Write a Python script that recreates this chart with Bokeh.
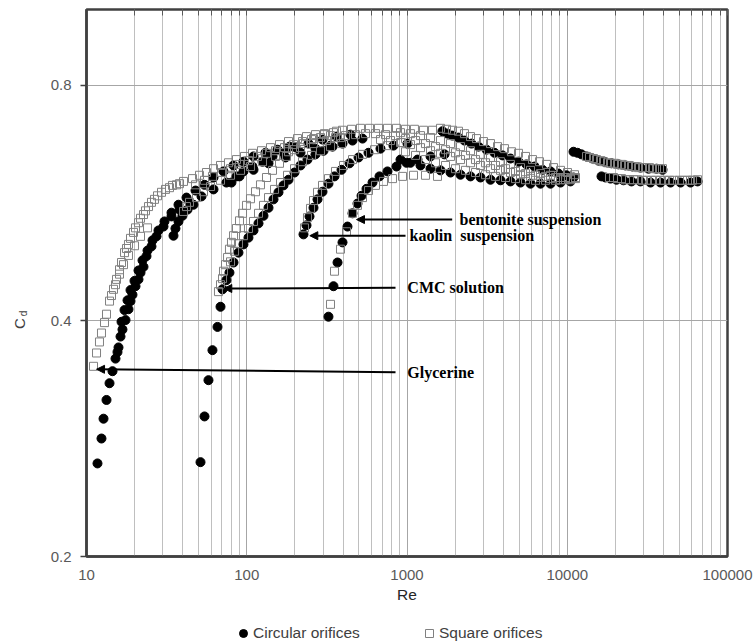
from bokeh.plotting import figure
from bokeh.layouts import row, column
from bokeh.models import (FixedTicker, PrintfTickFormatter, Arrow, NormalHead,
                          Label, Legend, LegendItem, Range1d, LogAxis)
from bokeh.embed import file_html
from bokeh.resources import INLINE

# ---------------- data (Re, Cd) ----------------
# Glycerine, circular orifices
glyc_c1_re = [11.71, 12.40, 12.77, 13.33, 13.92, 14.53, 15.17, 15.61, 15.84, 16.30, 16.77, 17.52,
              18.28, 18.82, 19.36, 20.22, 21.11, 21.73, 22.68, 23.68, 25.44, 27.34, 30.23, 33.91,
              38.05, 43.92, 52.19, 62.02, 74.7, 90.1, 110.2, 136.7, 174.5, 216.5, 268.5, 333.1]
glyc_c1_cd = [0.263, 0.283, 0.300, 0.317, 0.333, 0.345, 0.358, 0.365, 0.370, 0.382, 0.390, 0.401,
              0.414, 0.424, 0.432, 0.443, 0.452, 0.461, 0.469, 0.484, 0.498, 0.513, 0.528, 0.544,
              0.555, 0.567, 0.577, 0.589, 0.601, 0.612, 0.624, 0.636, 0.647, 0.656, 0.664, 0.670]
glyc_c2_re = [16.54, 17.27, 18.03, 18.82, 19.93, 21.11, 22.36, 24.03, 25.82, 28.13, 30.67, 33.91,
              37.5, 42.07, 47.89, 54.5, 62.02, 71.6, 82.7, 95.4, 110.2, 130.9, 155.6, 184.9]
glyc_c2_cd = [0.399, 0.413, 0.425, 0.438, 0.450, 0.464, 0.478, 0.492, 0.507, 0.522, 0.536, 0.550,
              0.563, 0.575, 0.587, 0.597, 0.610, 0.621, 0.632, 0.639, 0.649, 0.656, 0.662, 0.668]
glyc_c3_re = [34.9, 35.9, 37.5, 39.7, 42.7, 46.5]
glyc_c3_cd = [0.514, 0.525, 0.536, 0.545, 0.555, 0.563]
glyc_c4_re = [80.3, 86.3, 95.4, 108.6, 125.4, 144.8, 169.6, 201.5, 242.8, 297.0, 363.1, 444.0]
glyc_c4_cd = [0.601, 0.612, 0.621, 0.630, 0.639, 0.649, 0.656, 0.667, 0.674, 0.682, 0.688, 0.692]

# Glycerine, square orifices
glyc_s1_re = [11.06, 11.55, 12.05, 12.40, 12.95, 13.33, 13.92, 14.74, 15.39, 16.07, 16.54, 17.27,
              18.28, 19.65, 21.11, 22.68, 24.38, 26.57, 29.38, 32.96, 36.44, 40.30, 45.86, 50.71,
              56.08, 62.02, 68.59, 76.9, 86.3, 96.8, 108.6, 123.6, 140.7, 160.1, 182.2, 207.4,
              236.0, 268.5, 305.6, 347.8, 395.9, 450.5, 512.6, 583.4, 663.9, 755.4, 860.0, 978.6,
              1113, 1268, 1443]
glyc_s1_cd = [0.350, 0.364, 0.376, 0.386, 0.398, 0.408, 0.424, 0.439, 0.452, 0.465, 0.475, 0.489,
              0.501, 0.519, 0.534, 0.547, 0.560, 0.572, 0.584, 0.592, 0.597, 0.603, 0.608, 0.614,
              0.619, 0.626, 0.632, 0.637, 0.643, 0.649, 0.655, 0.660, 0.666, 0.672, 0.678, 0.684,
              0.688, 0.692, 0.694, 0.696, 0.701, 0.703, 0.705, 0.705, 0.705, 0.705, 0.705, 0.703,
              0.703, 0.701, 0.701]
glyc_s2_re = [40.30, 42.07, 43.92, 48.58, 53.73, 59.41, 68.59, 79.18, 91.42, 105.5, 125.4, 151.2,
              182.2, 216.5, 260.9, 314.6, 384.6]
glyc_s2_cd = [0.552, 0.560, 0.567, 0.575, 0.585, 0.594, 0.605, 0.614, 0.623, 0.630, 0.639, 0.649,
              0.658, 0.666, 0.674, 0.680, 0.686]
glyc_s3_re = [14.32, 15.17, 16.07, 17.02, 18.28, 19.93, 21.73, 24.03]
glyc_s3_cd = [0.431, 0.445, 0.459, 0.472, 0.485, 0.499, 0.513, 0.526]
glyc_s4_re = [17.77, 18.82, 20.22, 21.73, 23.34, 25.44, 27.74, 31.12, 34.40, 38.05]
glyc_s4_cd = [0.495, 0.510, 0.526, 0.541, 0.553, 0.567, 0.578, 0.589, 0.596, 0.599]
glyc_s5_re = [47.89, 54.5, 61.1, 69.6, 79.18, 90.1, 102.5, 116.7, 132.8, 151.2, 172.0, 195.7,
              222.8, 253.6, 288.5, 333.1]
glyc_s5_cd = [0.597, 0.605, 0.612, 0.619, 0.626, 0.634, 0.641, 0.649, 0.655, 0.660, 0.666, 0.672,
              0.678, 0.682, 0.686, 0.690]

# CMC solution
cmc_c_re = [51.46, 54.5, 57.7, 61.1, 65.7, 68.59, 70.6, 74.7, 78.0, 82.7, 88.8, 95.4, 102.5, 110.2,
            118.4, 127.2, 136.7, 146.9, 157.8, 169.6, 182.2, 198.6, 216.5, 239.3, 268.5, 301.3,
            342.9, 395.9, 457.0, 527.7]
cmc_c_cd = [0.264, 0.302, 0.336, 0.367, 0.393, 0.417, 0.439, 0.451, 0.461, 0.475, 0.489, 0.501,
            0.511, 0.522, 0.533, 0.545, 0.558, 0.572, 0.584, 0.596, 0.606, 0.619, 0.632, 0.643,
            0.653, 0.660, 0.668, 0.674, 0.680, 0.684]
cmc_s1_re = [66.6, 68.59, 70.6, 71.6, 73.69, 75.9, 78.0, 80.3, 82.7, 86.3, 90.1, 94.1, 99.6, 105.5,
             113.4, 121.8, 132.8, 144.8, 160.1, 177.0, 198.6, 226.0, 260.9, 305.6, 363.1]
cmc_s1_cd = [0.436, 0.445, 0.453, 0.463, 0.472, 0.482, 0.494, 0.504, 0.514, 0.525, 0.537, 0.549,
             0.562, 0.573, 0.585, 0.597, 0.610, 0.623, 0.636, 0.649, 0.662, 0.674, 0.684, 0.692,
             0.699]
cmc_s2_re = [79.18, 83.9, 88.8, 95.4, 102.5, 110.2, 118.4, 127.2, 136.7, 149.0, 162.4, 179.6,
             198.6, 222.8, 253.6, 288.5, 333.1, 390.3]
cmc_s2_cd = [0.476, 0.491, 0.502, 0.514, 0.525, 0.536, 0.549, 0.562, 0.575, 0.589, 0.601, 0.614,
             0.626, 0.639, 0.651, 0.660, 0.668, 0.674]

# Kaolin suspension
kaol_c_re = [226.0, 236.0, 246.4, 260.9, 276.4, 297.0, 323.6, 352.8, 390.3, 437.8, 498.3, 575.1,
             683.3, 823.4, 1007]
kaol_c_cd = [0.516, 0.530, 0.544, 0.558, 0.572, 0.585, 0.599, 0.612, 0.624, 0.636, 0.647, 0.656,
             0.664, 0.670, 0.674]
kaol_s_re = [229.3, 239.3, 250.0, 260.9, 276.4, 297.0, 323.6, 357.9, 401.6, 457.0, 527.7, 627.0,
             755.4, 924.1]
kaol_s_cd = [0.526, 0.542, 0.557, 0.570, 0.584, 0.596, 0.608, 0.621, 0.632, 0.643, 0.653, 0.662,
             0.670, 0.676]

# Bentonite suspension
bent_c_re = [323.6, 347.8, 368.5, 395.9, 425.3, 457.0, 491.1, 520.2, 558.9, 609.2, 673.5, 755.4,
             860.0, 993.0, 1163, 1402, 1714]
bent_c_cd = [0.405, 0.443, 0.475, 0.504, 0.528, 0.549, 0.565, 0.578, 0.590, 0.601, 0.612, 0.621,
             0.630, 0.637, 0.643, 0.649, 0.653]
bent_s_re = [333.1, 352.8, 384.6, 419.3, 457.0, 491.1, 527.7, 575.1, 635.9, 713.4, 811.7, 937.4,
             1098, 1304, 1550]
bent_s_cd = [0.420, 0.463, 0.494, 0.520, 0.549, 0.562, 0.575, 0.587, 0.596, 0.603, 0.608, 0.612,
             0.614, 0.614, 0.612]

# Peak region and descending branches (Re 300 - 11000)
apex_s_re = [357.9, 413.2, 477.1, 550.8, 635.9, 734.1, 847.7]
apex_s_cd = [0.686, 0.690, 0.692, 0.694, 0.694, 0.692, 0.690]
desc1_c_re = [1665, 1789, 1922, 2096, 2284, 2526, 2794, 3135, 3516, 3944, 4424, 4962, 5568, 6246,
              7006, 7861, 8818, 9892, 10940]
desc1_c_cd = [0.699, 0.694, 0.690, 0.686, 0.680, 0.674, 0.668, 0.662, 0.656, 0.651, 0.645, 0.639,
              0.634, 0.630, 0.624, 0.621, 0.617, 0.614, 0.610]
desc1_s_re = [1618, 1764, 1922, 2096, 2284, 2490, 2715, 3002, 3319, 3670, 4058, 4488, 4962, 5489,
              6069, 6710, 7420, 8207, 9077, 10037, 11098]
desc1_s_cd = [0.705, 0.703, 0.701, 0.699, 0.694, 0.688, 0.684, 0.678, 0.674, 0.668, 0.664, 0.658,
              0.655, 0.649, 0.643, 0.639, 0.634, 0.628, 0.623, 0.619, 0.615]
desc2_re = [683.3, 788.9, 910.9, 1051, 1214, 1402, 1618, 1868, 2157, 2490, 2875, 3319, 3832, 4424,
            5108, 5898, 6809, 7861, 9077, 10476]
desc2_cd = [0.682, 0.680, 0.676, 0.672, 0.666, 0.660, 0.655, 0.649, 0.643, 0.637, 0.632, 0.626,
            0.623, 0.619, 0.615, 0.612, 0.610, 0.608, 0.606, 0.606]
desc3_re = [910.9, 1051, 1214, 1402, 1618, 1868, 2157, 2490, 2875, 3319, 3832, 4424, 5108, 5898,
            6809, 7861, 9077, 10476]
desc3_cd = [0.643, 0.637, 0.632, 0.626, 0.623, 0.619, 0.615, 0.612, 0.610, 0.606, 0.605, 0.603,
            0.601, 0.599, 0.599, 0.599, 0.601, 0.603]
desc4_re = [910.9, 1051, 1214, 1402, 1618, 1868, 2157, 2490, 2875, 3319, 3832, 4424, 5108, 5898,
            6809, 7861, 9077, 10476]
desc4_cd = [0.696, 0.694, 0.690, 0.686, 0.680, 0.674, 0.668, 0.660, 0.653, 0.647, 0.639, 0.634,
            0.628, 0.623, 0.617, 0.614, 0.610, 0.608]
desc5_re = [978.6, 1130, 1304, 1506, 1739, 2007, 2317, 2676, 3090, 3566, 4118, 4754, 5489, 6337,
            7316, 8447, 9750, 11260]
desc5_cd = [0.684, 0.680, 0.674, 0.668, 0.662, 0.656, 0.651, 0.643, 0.637, 0.632, 0.626, 0.621,
            0.617, 0.614, 0.612, 0.610, 0.610, 0.610]
desc6_re = [978.6, 1130, 1304, 1506, 1739, 2007, 2317, 2676, 3090, 3566, 4118, 4754, 5489, 6337,
            7316, 8447, 9750, 11260]
desc6_cd = [0.658, 0.651, 0.643, 0.637, 0.632, 0.626, 0.623, 0.619, 0.615, 0.612, 0.610, 0.608,
            0.606, 0.605, 0.605, 0.605, 0.606, 0.608]

# High-Re branches
wat1_c_re = [10940, 11585, 12270, 13190, 14375, 15668, 17078, 18885, 20879, 23099, 25537, 28640,
             32137, 36057, 39300]
wat1_c_cd = [0.658, 0.656, 0.653, 0.649, 0.645, 0.641, 0.639, 0.636, 0.634, 0.632, 0.630, 0.628,
             0.626, 0.626, 0.624]
wat1_s_re = [13190, 13765, 14582, 15222, 16120, 16836, 17832, 18619, 19711, 20590, 21800, 22770,
             24105, 25170, 26670, 27830, 29480, 30790, 32600, 34040, 36057, 37640, 39300]
wat1_s_cd = [0.649, 0.647, 0.645, 0.643, 0.641, 0.639, 0.637, 0.636, 0.636, 0.634, 0.634, 0.632,
             0.632, 0.630, 0.630, 0.628, 0.628, 0.628, 0.628, 0.626, 0.626, 0.626, 0.626]
wat2_c_re = [16360, 17328, 18619, 20290, 22440, 25170, 28640, 33080, 38190, 44100, 50930, 58780,
             65010]
wat2_c_cd = [0.612, 0.610, 0.608, 0.606, 0.605, 0.603, 0.603, 0.601, 0.601, 0.601, 0.601, 0.601,
             0.603]
wat2_s_re = [18350, 19430, 20590, 21800, 23099, 24460, 25910, 27440, 29480, 31230, 33550, 35540,
             38190, 40440, 43450, 46030, 50170, 52390, 56290, 58780, 60470, 65010]
wat2_s_cd = [0.610, 0.610, 0.608, 0.608, 0.606, 0.606, 0.606, 0.606, 0.605, 0.605, 0.605, 0.605,
             0.605, 0.605, 0.605, 0.605, 0.605, 0.605, 0.605, 0.605, 0.605, 0.606]

# Annotations
ann_text = ["bentonite suspension", "kaolin\u00a0 suspension", "CMC solution", "Glycerine"]
ann_text_re = [2126, 1037, 1005, 1005]
ann_text_cd = [0.539, 0.514, 0.441, 0.344]
arr_start_re = [1914, 979, 848, 848]
arr_start_cd = [0.539, 0.514, 0.441, 0.344]
arr_end_re = [484, 247.5, 71.9, 11.55]
arr_end_cd = [0.539, 0.514, 0.440, 0.347]

x_major = [10, 100, 1000, 10000, 100000]
y_major = [0.2, 0.4, 0.8]
legend_labels = ["Circular orifices", "Square orifices"]

# ---------------- assemble ----------------
circ_sets = [(glyc_c1_re, glyc_c1_cd), (glyc_c2_re, glyc_c2_cd), (glyc_c3_re, glyc_c3_cd),
             (glyc_c4_re, glyc_c4_cd), (cmc_c_re, cmc_c_cd), (kaol_c_re, kaol_c_cd),
             (bent_c_re, bent_c_cd), (desc1_c_re, desc1_c_cd), (desc3_re, desc3_cd),
             (wat1_c_re, wat1_c_cd), (wat2_c_re, wat2_c_cd)]
sq_sets = [(glyc_s1_re, glyc_s1_cd), (glyc_s2_re, glyc_s2_cd), (glyc_s3_re, glyc_s3_cd),
           (glyc_s4_re, glyc_s4_cd), (glyc_s5_re, glyc_s5_cd),
           (cmc_s1_re, cmc_s1_cd), (cmc_s2_re, cmc_s2_cd), (kaol_s_re, kaol_s_cd),
           (bent_s_re, bent_s_cd), (apex_s_re, apex_s_cd), (desc1_s_re, desc1_s_cd),
           (desc2_re, desc2_cd), (desc4_re, desc4_cd), (desc5_re, desc5_cd), (desc6_re, desc6_cd),
           (wat1_s_re, wat1_s_cd), (wat2_s_re, wat2_s_cd)]

circ_re, circ_cd, sq_re, sq_cd = [], [], [], []
for a, b in circ_sets:
    circ_re += a
    circ_cd += b
for a, b in sq_sets:
    sq_re += a
    sq_cd += b

CIRC = dict(marker="circle", size=9, fill_color="black", line_color="black")
SQ = dict(marker="square", size=8, fill_color=None, line_color="#808080", line_width=1)

LEFT_W = 30   # narrow strip holding the y-axis title
LEG_H = 30    # strip holding the legend
MAIN_H = 644 - LEG_H

p = figure(width=756 - LEFT_W, height=MAIN_H, x_axis_type="log", y_axis_type="log",
           x_range=Range1d(10, 100000), y_range=Range1d(0.2, 1.0),
           output_backend="svg", toolbar_location=None,
           min_border_left=86 - LEFT_W, min_border_right=29, min_border_top=9,
           min_border_bottom=MAIN_H - 556)

p.background_fill_color = "white"
p.border_fill_color = "white"
p.outline_line_color = "#404040"
p.outline_line_width = 2.5

p.scatter(circ_re, circ_cd, **CIRC)
p.scatter(sq_re, sq_cd, **SQ)

x_minor = [m * 10 ** k for k in range(1, 5) for m in range(2, 10)]
xt = FixedTicker(ticks=x_major, minor_ticks=x_minor)
yt = FixedTicker(ticks=y_major, minor_ticks=[])
p.xaxis.ticker = xt
p.xgrid.ticker = xt
p.yaxis.ticker = yt
p.ygrid.ticker = yt
p.xaxis.formatter = PrintfTickFormatter(format="%d")
p.yaxis.formatter = PrintfTickFormatter(format="%.1f")

p.xgrid.grid_line_color = "#a6a6a6"
p.xgrid.minor_grid_line_color = "#bfbfbf"
p.ygrid.grid_line_color = "#a6a6a6"

for ax in (p.xaxis, p.yaxis):
    ax.axis_line_color = "#404040"
    ax.axis_line_width = 2.5
    ax.major_tick_line_color = "#404040"
    ax.major_tick_line_width = 1.5
    ax.minor_tick_in = 0
    ax.minor_tick_out = 0
    ax.major_tick_in = 0
    ax.major_label_text_font = "Liberation Sans"
    ax.major_label_text_font_size = "15px"
    ax.major_label_text_color = "#595959"

p.xaxis.major_tick_out = 0
p.xaxis.major_label_standoff = 13
p.yaxis.major_tick_out = 6
p.yaxis.major_label_standoff = 9

p.xaxis.axis_label = "Re"
p.xaxis.axis_label_text_font = "Liberation Sans"
p.xaxis.axis_label_text_font_size = "15.5px"
p.xaxis.axis_label_text_font_style = "normal"
p.xaxis.axis_label_text_color = "#262626"
p.xaxis.axis_label_standoff = 3

# short inward ticks along the top border
top_ax = LogAxis(ticker=xt, axis_line_color=None, major_tick_in=6, major_tick_out=0,
                 minor_tick_in=6, minor_tick_out=0, major_tick_line_color="#595959",
                 minor_tick_line_color="#595959", major_label_standoff=0,
                 major_label_overrides={t: "" for t in x_major})
p.add_layout(top_ax, "above")

# arrows and notes
for i in range(len(ann_text)):
    p.add_layout(Arrow(end=NormalHead(size=8, fill_color="black", line_color="black"),
                       x_start=arr_start_re[i], y_start=arr_start_cd[i],
                       x_end=arr_end_re[i], y_end=arr_end_cd[i],
                       line_width=2, line_color="black"))
    p.add_layout(Label(x=ann_text_re[i], y=ann_text_cd[i], text=ann_text[i],
                       text_font="Liberation Serif", text_font_style="bold",
                       text_font_size="16px", text_baseline="middle", text_align="left",
                       text_color="black"))

# ---- left strip: y-axis title C_d (its frame is aligned with the main frame) ----
cd_fig = figure(width=LEFT_W, height=MAIN_H, output_backend="svg", toolbar_location=None,
                min_border=0, x_range=Range1d(0, 1), y_range=Range1d(0, 1))
cd_fig.axis.visible = False
cd_fig.grid.visible = False
cd_fig.outline_line_color = None
cd_fig.add_layout(Label(x=19, y=233, x_units="screen", y_units="screen",
                        text="C", angle=1.5708, text_align="center", text_baseline="middle",
                        text_font="Liberation Sans", text_font_size="15px",
                        text_color="#404040"))
cd_fig.add_layout(Label(x=23, y=243, x_units="screen", y_units="screen",
                        text="d", angle=1.5708, text_align="center", text_baseline="middle",
                        text_font="Liberation Sans", text_font_size="10px",
                        text_color="#404040"))

# ---- bottom strip: legend (its renderers hold one point each, outside the strip's view) ----
leg_fig = figure(width=756, height=LEG_H, output_backend="svg", toolbar_location=None,
                 min_border=0, x_range=Range1d(0, 1), y_range=Range1d(0, 1))
leg_fig.axis.visible = False
leg_fig.grid.visible = False
leg_fig.outline_line_color = None
lc = leg_fig.scatter(circ_re[:1], circ_cd[:1], **CIRC)
ls = leg_fig.scatter(sq_re[:1], sq_cd[:1], **SQ)
legend = Legend(items=[LegendItem(label=legend_labels[0], renderers=[lc]),
                       LegendItem(label=legend_labels[1], renderers=[ls])],
                orientation="horizontal", location=(233, 1), border_line_color=None,
                background_fill_alpha=0, label_text_font="Liberation Sans",
                label_text_font_size="15.5px", label_text_color="#404040",
                glyph_width=20, glyph_height=20, label_standoff=0, padding=0, margin=0,
                spacing=26, label_width=140)
leg_fig.add_layout(legend)

layout = column(row(cd_fig, p), leg_fig)

open("out.html", "w").write(file_html(layout, INLINE))
